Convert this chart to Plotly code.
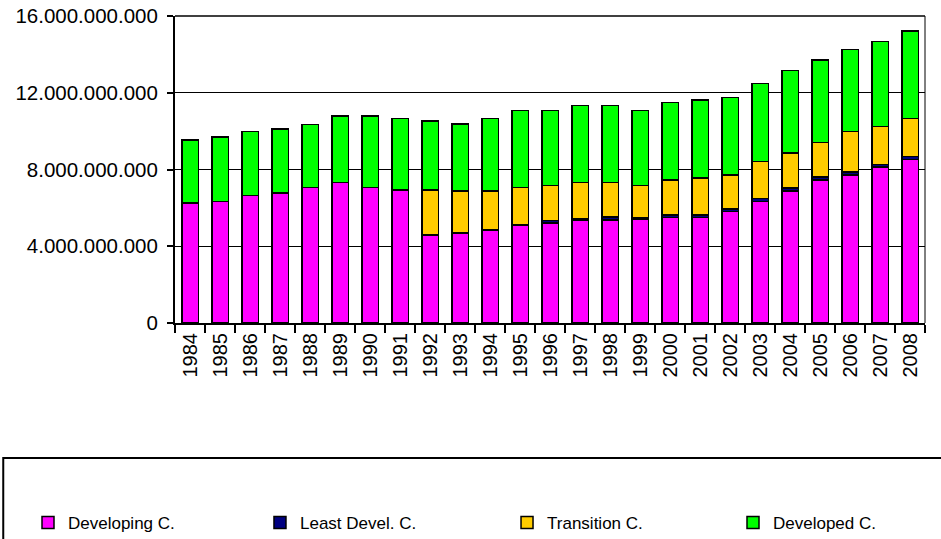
import plotly.graph_objects as go

years = [str(y) for y in range(1984, 2009)]

# values in billions
developing = [6.25, 6.34, 6.65, 6.77, 7.05, 7.31, 7.05, 6.93, 4.58, 4.68, 4.84, 5.11, 5.20,
              5.37, 5.37, 5.41, 5.49, 5.49, 5.80, 6.34, 6.88, 7.45, 7.72, 8.12, 8.53]
least_devel = [0, 0, 0, 0, 0, 0, 0, 0, 0, 0, 0, 0, 0.15,
               0.08, 0.15, 0.05, 0.15, 0.15, 0.15, 0.15, 0.15, 0.15, 0.15, 0.15, 0.15]
transition = [0, 0, 0, 0, 0, 0, 0, 0, 2.35, 2.21, 2.05, 1.94, 1.82,
              1.86, 1.79, 1.71, 1.81, 1.92, 1.77, 1.94, 1.82, 1.80, 2.11, 1.97, 1.98]
developed = [3.30, 3.35, 3.32, 3.33, 3.30, 3.49, 3.75, 3.73, 3.61, 3.47, 3.77, 4.02, 3.90,
             4.02, 4.02, 3.90, 4.04, 4.07, 4.03, 4.04, 4.30, 4.30, 4.27, 4.42, 4.56]

series = [
    ("Developing C.", developing, "#FF00FF"),
    ("Least Devel. C.", least_devel, "#000080"),
    ("Transition C.", transition, "#FFCC00"),
    ("Developed C.", developed, "#00FF00"),
]

# one legend per series so each entry sits where the original has it
legend_ids = ["legend2", "legend3", "legend4", "legend5"]
legend_x = [-0.196, 0.1133, 0.4427, 0.744]

fig = go.Figure()
for (name, vals, color), lid in zip(series, legend_ids):
    fig.add_trace(go.Bar(
        x=years, y=[v * 1e9 for v in vals], name=name, legend=lid,
        marker=dict(color=color, line=dict(color="black", width=1.5)),
    ))

legend_style = dict(orientation="h", xanchor="left", y=-0.6515, yanchor="middle",
                    font=dict(size=17), bgcolor="rgba(0,0,0,0)")

fig.update_layout(
    width=941, height=539,
    barmode="stack", bargap=0.45,
    separators=",.",
    paper_bgcolor="white", plot_bgcolor="white",
    font=dict(family="Liberation Sans, Arial, sans-serif", color="black"),
    margin=dict(l=175, r=16, t=16, b=216, autoexpand=False),
    xaxis=dict(tickangle=-90, tickfont=dict(size=20), ticks="outside", ticklen=8,
               tickson="boundaries", tickcolor="black", tickwidth=1.5,
               showline=True, linecolor="black", linewidth=2, showgrid=False),
    yaxis=dict(range=[0, 16e9], dtick=4e9, tickformat=",d", tickfont=dict(size=20.5),
               ticklabeloverflow="allow", ticklabelstandoff=5,
               ticks="outside", ticklen=6, tickcolor="black", tickwidth=1.5,
               showline=True, linecolor="black", linewidth=2,
               showgrid=True, gridcolor="black", gridwidth=1, zeroline=False),
)
for lid, lx in zip(legend_ids, legend_x):
    fig.update_layout({lid: dict(legend_style, x=lx)})

# top and right frame lines, legend box
fig.add_shape(type="line", xref="paper", yref="paper", x0=0, x1=1, y0=1, y1=1,
              line=dict(color="black", width=1.5))
fig.add_shape(type="line", xref="paper", yref="paper", x0=1, x1=1, y0=0, y1=1,
              line=dict(color="black", width=1))
fig.add_shape(type="rect", xref="paper", yref="paper",
              x0=-0.229, x1=1.03, y0=-0.73, y1=-0.44,
              line=dict(color="black", width=2))

# drop the default 8px page margin so the figure fills the window
fig.write_html("out.html", config={"displayModeBar": False},
               post_script="document.body.style.margin = '0';")
